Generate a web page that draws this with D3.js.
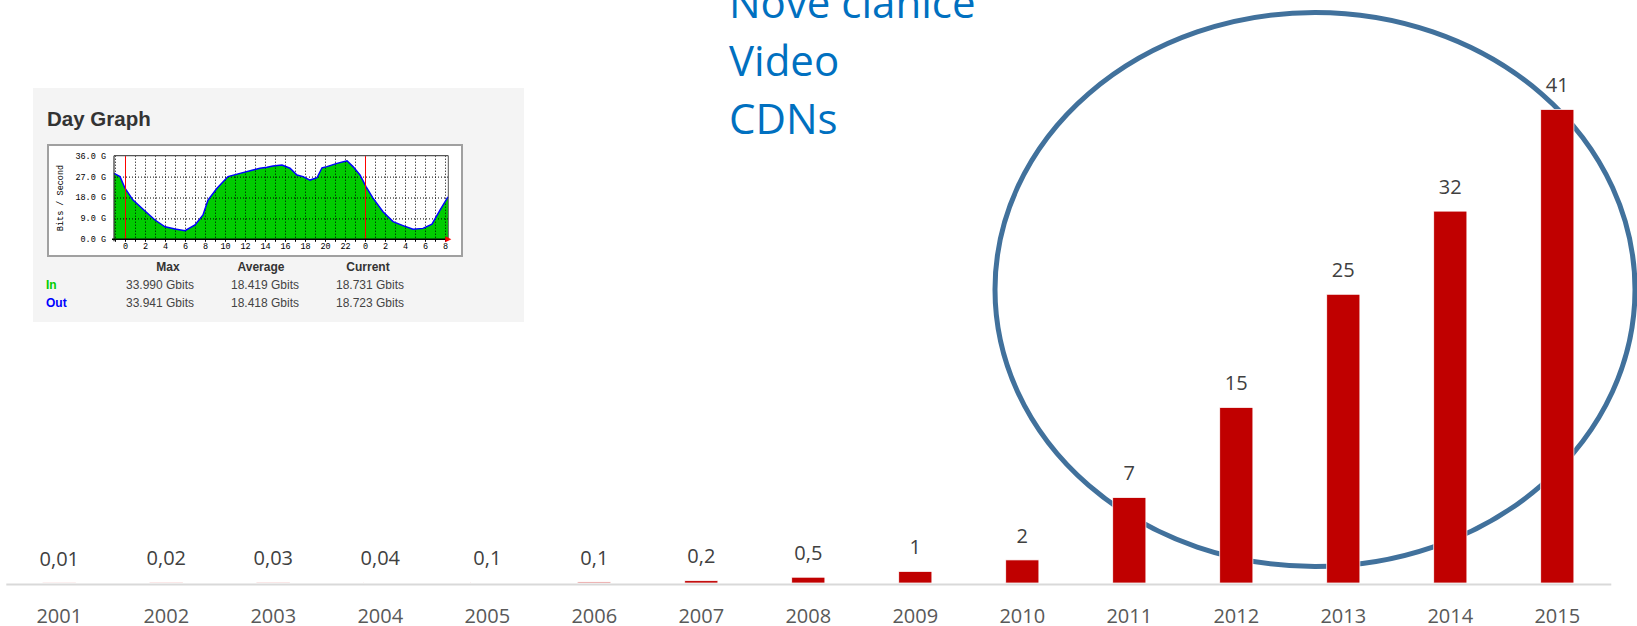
<!DOCTYPE html>
<html>
<head>
<meta charset="utf-8">
<script src="https://cdn.jsdelivr.net/npm/d3@7"></script>
<style>
  body { margin: 0; background: #fff; overflow: hidden; }
</style>
</head>
<body>
<div id="graph"></div>
<script>
// bar chart data (Tbit/s per year)
const years = ["2001","2002","2003","2004","2005","2006","2007","2008","2009","2010","2011","2012","2013","2014","2015"];
const traffic = [0.01, 0.02, 0.03, 0.04, 0.05, 0.09, 0.2, 0.5, 1, 2, 7.4, 15.2, 25, 32.2, 41];
const trafficLabels = ["0,01","0,02","0,03","0,04","0,1","0,1","0,2","0,5","1","2","7","15","25","32","41"];
const topics = ["Nove cianice", "Video", "CDNs"];

// MRTG day graph inset (hour, Gbit/s)
const dayHours = [-1.1, -0.5, 0, 0.8, 2, 3, 4, 5, 6, 7, 7.8, 8.3, 9.2, 10.3, 11.5, 12.8, 13.5, 14.2, 14.8, 15.7, 16.5, 17.2, 17.8, 18.5, 19.2, 19.7, 20.2, 21.2, 22.2, 22.8, 23.5, 24.1, 24.8, 25.8, 26.8, 27.8, 28.8, 29.8, 30.7, 31.5, 32.3];
const dayGbits = [28.4, 27, 22, 16.9, 12.2, 8.3, 5.4, 4.4, 3.7, 6.2, 10.5, 16.9, 22, 27, 28.4, 29.8, 30.6, 31, 31.6, 32, 30.6, 27.7, 27, 25.5, 26.5, 30.8, 31.3, 32.7, 33.8, 31.3, 27.7, 22.7, 17.7, 11.9, 7.6, 5.9, 4.3, 4.7, 6.5, 12.6, 18.3];
const dayYTicks = [0, 9, 18, 27, 36];
const dayYLabels = ["0.0 G", "9.0 G", "18.0 G", "27.0 G", "36.0 G"];
const dayXTicks = [0, 2, 4, 6, 8, 10, 12, 14, 16, 18, 20, 22, 24, 26, 28, 30, 32];
const statHeaders = ["Max", "Average", "Current"];
const statIn = ["33.990 Gbits", "18.419 Gbits", "18.731 Gbits"];
const statOut = ["33.941 Gbits", "18.418 Gbits", "18.723 Gbits"];

const width = 1637, height = 626;

const svg = d3.select('#graph')
  .append('svg')
  .attr('width', width).attr('height', height)
  .style('display', 'block')
  .style('font-family', '"Open Sans", sans-serif');

// ----- highlight ellipse (behind the bars)
svg.append('ellipse')
  .attr('cx', 1315).attr('cy', 289.5)
  .attr('rx', 320).attr('ry', 277)
  .attr('fill', 'none')
  .attr('stroke', '#41719C')
  .attr('stroke-width', 5);

// ----- bar chart
const xScale = d3.scaleBand()
  .domain(years)
  .range([5.8, 1610.8])
  .paddingInner(0.69)
  .paddingOuter(0.345);

const yScale = d3.scaleLinear()
  .domain([0, 41])
  .range([583, 109.5]);

svg.append('g')
  .selectAll('rect').data(years)
  .enter().append('rect')
  .attr('x', d => xScale(d))
  .attr('y', (d, i) => yScale(traffic[i]))
  .attr('width', xScale.bandwidth())
  .attr('height', (d, i) => yScale(0) - yScale(traffic[i]))
  .attr('fill', '#C00000')
  .attr('stroke', '#fff')
  .attr('stroke-width', 0.75);

svg.append('g')
  .selectAll('text').data(years)
  .enter().append('text')
  .attr('x', d => xScale(d) + xScale.bandwidth() / 2)
  .attr('y', (d, i) => yScale(traffic[i]) - 24.5)
  .attr('dy', '0.36em')
  .attr('text-anchor', 'middle')
  .attr('font-size', 20)
  .attr('fill', '#404040')
  .text((d, i) => trafficLabels[i]);

const xAxis = d3.axisBottom(xScale).tickSize(0).tickPadding(25);
const axisG = svg.append('g')
  .attr('transform', 'translate(0,584)')
  .call(xAxis);
axisG.select('.domain').attr('stroke', '#D9D9D9').attr('stroke-width', 2);
axisG.selectAll('text')
  .attr('font-size', 20)
  .attr('font-family', '"Open Sans", sans-serif')
  .attr('fill', '#595959');

// ----- blue topic text
svg.append('g')
  .selectAll('text').data(topics)
  .enter().append('text')
  .attr('x', 729)
  .attr('y', (d, i) => 18 + i * 58)
  .attr('font-size', 42)
  .attr('fill', '#0070C0')
  .text(d => d);

// ----- Day Graph inset
const inset = svg.append('g').style('font-family', '"Liberation Sans", Arial, sans-serif');

inset.append('rect')
  .attr('x', 33).attr('y', 88).attr('width', 491).attr('height', 234)
  .attr('fill', '#F4F4F4');

inset.append('text')
  .attr('x', 47).attr('y', 126)
  .attr('font-size', 20.5).attr('font-weight', 'bold')
  .attr('fill', '#333')
  .text('Day Graph');

inset.append('rect')
  .attr('x', 48).attr('y', 145).attr('width', 414).attr('height', 111)
  .attr('fill', '#fff')
  .attr('stroke', '#A0A0A0')
  .attr('stroke-width', 2);

const hx = d3.scaleLinear().domain([-1.1, 32.33]).range([114, 448.3]);
const gy = d3.scaleLinear().domain([0, 36]).range([239.3, 155.7]);

const area = d3.area()
  .x((d, i) => hx(dayHours[i]))
  .y0(gy(0))
  .y1((d, i) => gy(dayGbits[i]));
const line = d3.line()
  .x((d, i) => hx(dayHours[i]))
  .y((d, i) => gy(dayGbits[i]));

inset.append('path')
  .datum(dayGbits)
  .attr('d', area)
  .attr('fill', '#00CC00');

// dotted grid on top of the fill
const grid = inset.append('g')
  .attr('stroke', '#000')
  .attr('stroke-width', 1)
  .attr('stroke-dasharray', '1,2');
grid.selectAll('line.v').data(d3.range(-1, 33))
  .enter().append('line')
  .attr('x1', d => hx(d) + 0.5).attr('x2', d => hx(d) + 0.5)
  .attr('y1', gy(36)).attr('y2', gy(0));
grid.selectAll('line.h').data(dayYTicks.slice(1, 4))
  .enter().append('line')
  .attr('x1', hx(-1.1)).attr('x2', hx(32.33))
  .attr('y1', d => gy(d) + 0.5).attr('y2', d => gy(d) + 0.5);

inset.append('path')
  .datum(dayGbits)
  .attr('d', line)
  .attr('fill', 'none')
  .attr('stroke', '#0000FF')
  .attr('stroke-width', 1.5);

// midnight markers
inset.selectAll('line.mid').data([0, 24])
  .enter().append('line')
  .attr('x1', d => hx(d) + 0.5).attr('x2', d => hx(d) + 0.5)
  .attr('y1', gy(36)).attr('y2', gy(0))
  .attr('stroke', '#FF0000').attr('stroke-width', 1);

// frame of the plot
inset.append('line')
  .attr('x1', hx(-1.1)).attr('x2', hx(32.33))
  .attr('y1', gy(36)).attr('y2', gy(36))
  .attr('stroke', '#555').attr('stroke-width', 1.2);
inset.append('line')
  .attr('x1', hx(-1.1)).attr('x2', hx(-1.1))
  .attr('y1', gy(36)).attr('y2', gy(0) + 2)
  .attr('stroke', '#333').attr('stroke-width', 1.2);
inset.append('line')
  .attr('x1', hx(32.33)).attr('x2', hx(32.33))
  .attr('y1', gy(36)).attr('y2', gy(0))
  .attr('stroke', '#555').attr('stroke-width', 1);
inset.append('line')
  .attr('x1', hx(-1.1) - 2).attr('x2', hx(32.33))
  .attr('y1', gy(0)).attr('y2', gy(0))
  .attr('stroke', '#000').attr('stroke-width', 1.5);

// hour ticks and labels
inset.selectAll('line.tick').data(d3.range(-1, 33))
  .enter().append('line')
  .attr('x1', d => hx(d) + 0.5).attr('x2', d => hx(d) + 0.5)
  .attr('y1', gy(0)).attr('y2', gy(0) + 2.5)
  .attr('stroke', '#000');

inset.selectAll('text.hour').data(dayXTicks)
  .enter().append('text')
  .attr('x', d => hx(d) + 0.5)
  .attr('y', 249)
  .attr('text-anchor', 'middle')
  .attr('font-family', '"Liberation Mono", "DejaVu Sans Mono", monospace')
  .attr('font-size', 8.5)
  .attr('fill', '#000')
  .text(d => d % 24);

inset.selectAll('text.ylab').data(dayYTicks)
  .enter().append('text')
  .attr('x', 106)
  .attr('y', d => gy(d))
  .attr('dy', '0.35em')
  .attr('text-anchor', 'end')
  .attr('font-family', '"Liberation Mono", "DejaVu Sans Mono", monospace')
  .attr('font-size', 8.5)
  .attr('fill', '#000')
  .text((d, i) => dayYLabels[i]);

inset.append('text')
  .attr('transform', 'translate(63,198) rotate(-90)')
  .attr('text-anchor', 'middle')
  .attr('font-family', '"Liberation Mono", "DejaVu Sans Mono", monospace')
  .attr('font-size', 8.5)
  .attr('fill', '#000')
  .text('Bits / Second');

// red arrow at the end of the time axis
inset.append('path')
  .attr('d', d3.line()([[hx(32.33) - 3, gy(0) - 3], [hx(32.33) + 3, gy(0)], [hx(32.33) - 3, gy(0) + 3]]))
  .attr('fill', '#FF0000');

// stats table
const colX = [168, 261, 368];
const valX = [160, 265, 370];
inset.selectAll('text.head').data(statHeaders)
  .enter().append('text')
  .attr('x', (d, i) => colX[i]).attr('y', 271)
  .attr('text-anchor', 'middle')
  .attr('font-size', 12).attr('font-weight', 'bold')
  .attr('fill', '#333')
  .text(d => d);

inset.append('text')
  .attr('x', 46).attr('y', 289)
  .attr('font-size', 12).attr('font-weight', 'bold')
  .attr('fill', '#00CC00').text('In');
inset.append('text')
  .attr('x', 46).attr('y', 307)
  .attr('font-size', 12).attr('font-weight', 'bold')
  .attr('fill', '#0000FF').text('Out');

inset.selectAll('text.in').data(statIn)
  .enter().append('text')
  .attr('x', (d, i) => valX[i]).attr('y', 289)
  .attr('text-anchor', 'middle')
  .attr('font-size', 12).attr('fill', '#444')
  .text(d => d);
inset.selectAll('text.out').data(statOut)
  .enter().append('text')
  .attr('x', (d, i) => valX[i]).attr('y', 307)
  .attr('text-anchor', 'middle')
  .attr('font-size', 12).attr('fill', '#444')
  .text(d => d);
</script>
</body>
</html>
